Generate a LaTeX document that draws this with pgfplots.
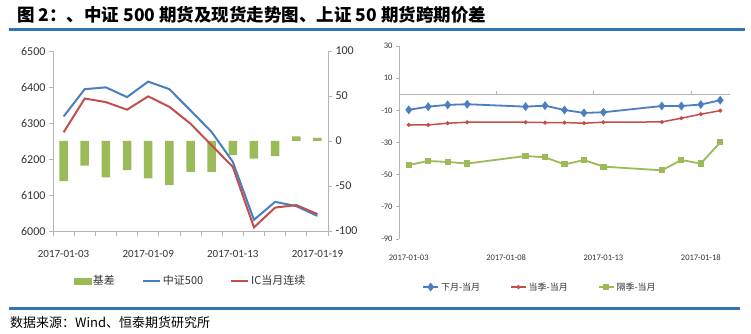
\documentclass[border=0pt]{standalone}
\usepackage{pgfplots}
\pgfplotsset{compat=1.18}
\usepackage{fontspec}
\setmainfont{Carlito}
\newfontfamily\cjk{Noto Sans CJK SC}
\definecolor{lblue}{HTML}{4A7EBF}
\definecolor{lred}{HTML}{C0504D}
\definecolor{lgreen}{HTML}{9BBB59}
\definecolor{rule}{HTML}{2E75B6}
\definecolor{axgray}{HTML}{B4B4B4}
\begin{document}
\begin{tikzpicture}[x=1pt,y=1pt]
\path[use as bounding box] (0,0) rectangle (751,334);
% title and rules
\node[anchor=west,inner sep=0pt] at (17,319) {\cjk\bfseries\fontsize{17.5}{20}\selectfont 图 2：、中证 500 期货及现货走势图、上证 50 期货跨期价差};
\fill[rule] (9,302.5) rectangle (745,305.5);
\fill[rule] (9,23.5) rectangle (740,26.5);
\node[anchor=west,inner sep=0pt] at (10,11) {\cjk\fontsize{13}{15}\selectfont 数据来源：Wind、恒泰期货研究所};

% ---------- left chart: basis bars (right axis)
\begin{axis}[
  at={(53pt,103pt)}, anchor=south west, width=275pt, height=180pt, scale only axis,
  xmin=-0.5, xmax=12.5, ymin=-100, ymax=100,
  axis y line*=right, axis x line=none,
  ytick={-100,-50,...,100},
  yticklabels={-100,-50,0,50,100},
  y axis line style={axgray, line width=0.8pt},
  ytick style={axgray, line width=0.8pt},
  tick align=outside, major tick length=4pt,
  yticklabel style={font=\fontsize{12}{14}\selectfont, text=black!80},
  clip=false,
]
\addplot[ybar, bar width=8.5pt, fill=lgreen, draw=none] coordinates {
(0,-44.5) (1,-27.5) (2,-40.5) (3,-32.5) (4,-41.5) (5,-49) (6,-34.2) (7,-34.2) (8,-15.8) (9,-19.5) (10,-16.9) (11,5.2) (12,3.4)};
\end{axis}
% ---------- left chart: index lines (left axis)
\begin{axis}[
  at={(53pt,103pt)}, anchor=south west, width=275pt, height=180pt, scale only axis,
  xmin=-0.5, xmax=12.5, ymin=6000, ymax=6500,
  axis y line*=left, axis x line*=bottom,
  ytick={6000,6100,...,6500},
  yticklabels={6000,6100,6200,6300,6400,6500},
  xtick={0,4,8,12},
  xticklabels={2017-01-03,2017-01-09,2017-01-13,2017-01-19},
  minor xtick={-0.5,0.5,...,12.5},
  axis line style={axgray, line width=0.8pt},
  ytick style={axgray, line width=0.8pt},
  minor x tick style={axgray, line width=0.8pt},
  major x tick style={draw=none},
  tick align=outside, major tick length=4pt, minor tick length=5pt,
  yticklabel style={font=\fontsize{12}{14}\selectfont, text=black!80},
  xticklabel style={font=\fontsize{11}{13}\selectfont, text=black!80, yshift=-12pt},
  clip=false,
  legend style={at={(0.5,-0.278)}, anchor=center, draw=none, fill=none,
    font=\cjk\fontsize{11}{13}\selectfont, text=black!80,
    /tikz/every even column/.append style={column sep=25pt}},
  legend columns=3,
  legend image code/.code={\draw[#1] (0pt,0pt) -- (17pt,0pt);},
]
\addlegendimage{legend image code/.code={\fill[lgreen] (0pt,-3pt) rectangle (17pt,3pt);}}
\addlegendentry{基差}
\addplot[lblue, line width=2pt] coordinates {
(0,6318) (1,6394) (2,6399) (3,6372) (4,6415) (5,6394) (6,6335) (7,6275) (8,6192) (9,6031) (10,6081) (11,6069) (12,6042)};
\addlegendentry{中证500}
\addplot[lred, line width=2pt] coordinates {
(0,6274) (1,6368) (2,6358) (3,6337) (4,6374) (5,6345) (6,6298) (7,6238) (8,6178) (9,6010) (10,6065) (11,6072) (12,6047)};
\addlegendentry{IC当月连续}
\end{axis}

% ---------- right chart
\begin{axis}[
  at={(399pt,95pt)}, anchor=south west, width=331pt, height=193pt, scale only axis,
  xmin=2.5, xmax=19.5, ymin=-90, ymax=30,
  axis y line*=left, axis x line*=bottom,
  x axis line style={draw=none},
  y axis line style={axgray, line width=0.8pt},
  ytick={-90,-70,...,30},
  yticklabels={-90,-70,-50,-30,-10,10,30},
  ytick style={axgray, line width=0.8pt},
  xtick={3,8,13,18},
  xticklabels={2017-01-03,2017-01-08,2017-01-13,2017-01-18},
  major x tick style={draw=none},
  tick align=outside, major tick length=3pt,
  yticklabel style={font=\fontsize{8.5}{10}\selectfont, text=black!80},
  xticklabel style={font=\fontsize{8.5}{10}\selectfont, text=black!80, yshift=-9pt},
  clip=false,
  legend style={at={(0.426,-0.249)}, anchor=center, draw=none, fill=none,
    font=\cjk\fontsize{9}{11}\selectfont, text=black!80,
    /tikz/every even column/.append style={column sep=28pt}},
  legend columns=3,
  legend image code/.code={\draw[mark repeat=2,mark phase=2,#1] plot coordinates {(0pt,0pt) (7.5pt,0pt) (15pt,0pt)};},
]
\addplot[axgray, line width=0.8pt, forget plot] coordinates {(2.5,0) (19.5,0)};
\draw[axgray, line width=0.8pt] (axis cs:7.5,0) -- ([yshift=3pt]axis cs:7.5,0);
\draw[axgray, line width=0.8pt] (axis cs:12.5,0) -- ([yshift=3pt]axis cs:12.5,0);
\draw[axgray, line width=0.8pt] (axis cs:17.5,0) -- ([yshift=3pt]axis cs:17.5,0);
\addplot[lblue, line width=1.8pt, mark=diamond*, mark size=3pt] coordinates {
(3,-9.7) (4,-7.7) (5,-6.6) (6,-6.2) (9,-7.7) (10,-7.1) (11,-9.8) (12,-11.6) (13,-11.2) (16,-7.3) (17,-7.3) (18,-6.4) (19,-3.7)};
\addlegendentry{下月-当月}
\addplot[lred, line width=1.5pt, mark=*, mark size=1.2pt] coordinates {
(3,-19.1) (4,-19.1) (5,-18.0) (6,-17.4) (9,-17.4) (10,-17.6) (11,-17.6) (12,-18.0) (13,-17.4) (16,-17.2) (17,-14.9) (18,-12.4) (19,-10.2)};
\addlegendentry{当季-当月}
\addplot[lgreen, line width=1.8pt, mark=square*, mark size=2.2pt] coordinates {
(3,-44.0) (4,-41.5) (5,-42.1) (6,-43.1) (9,-38.4) (10,-39.2) (11,-43.6) (12,-40.9) (13,-45.0) (16,-47.3) (17,-40.9) (18,-43.1) (19,-29.9)};
\addlegendentry{隔季-当月}
\end{axis}
\end{tikzpicture}
\end{document}
